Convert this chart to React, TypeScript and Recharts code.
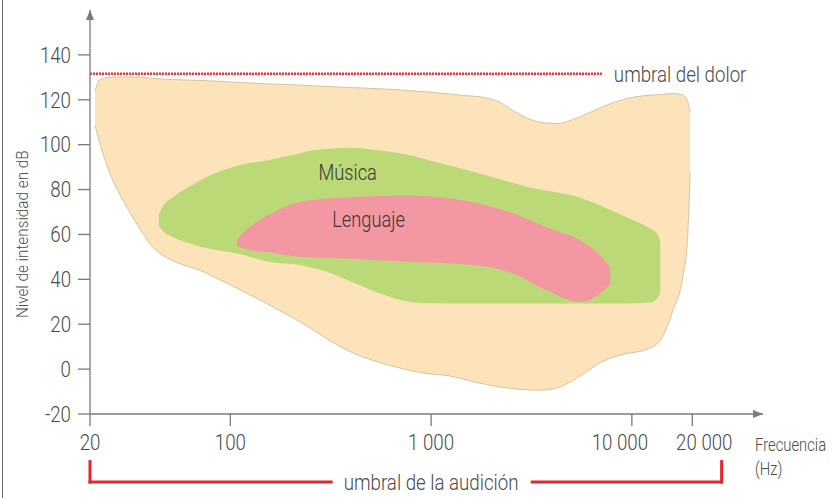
import React from "react";
import { ComposedChart, Area, XAxis, YAxis, ReferenceLine, ReferenceDot } from "recharts";

const FONT = "Roboto, 'Open Sans', sans-serif";
const TEXT = "#4a4a4a";
const AXIS = "#7a7a7a";

// ejes
const xTicks = [20, 100, 1000, 10000, 20000];
const xTickLabels = ["20", "100", "1 000", "10 000", "20 000"];
const yTicks = [-20, 0, 20, 40, 60, 80, 100, 120, 140];

// zona audible (frecuencia en Hz, nivel mínimo / máximo en dB)
const audFreq = [21.2, 22.4, 25.2, 30.6, 36.7, 41.2, 76.6, 136, 223, 382, 677, 955, 1200, 1450, 1755, 2210, 2560, 3490, 4200, 5540, 6990, 9480, 11500, 13840, 16000, 17800, 18900, 19500];
const audLow = [108.5, 100.5, 87, 72, 60.4, 54.2, 42.6, 31.5, 21, 8.4, 0.8, -2, -2.8, -4.5, -6.3, -8, -8.7, -9.4, -8.5, -3, 3, 7, 8.4, 12.8, 26, 39.5, 57, 88];
const audHigh = [124, 129, 130, 130.2, 130, 129.5, 128.5, 127.3, 126.5, 125.5, 124.5, 123.5, 122.7, 121.9, 121.3, 118.8, 115.2, 110, 109.4, 112.5, 116.5, 120.6, 121.8, 122.3, 122.8, 122.3, 119.7, 114];

// música
const musFreq = [44.1, 46.2, 51.8, 63, 76.6, 112, 154, 223, 258, 314, 382, 557, 814, 989, 1755, 3115, 5528, 9480, 12340, 13370, 13836];
const musLow = [63.7, 61.5, 58.8, 56, 53.8, 51.2, 47.8, 46.3, 45, 42.8, 39.7, 33.7, 29.7, 29.3, 29.2, 29.2, 29.2, 29.2, 29.7, 31.5, 34];
const musHigh = [69, 72.6, 76.6, 81.5, 85.7, 90.9, 93.1, 96.2, 97.5, 98.2, 98.6, 97.4, 95, 93, 87.1, 80.9, 76.4, 67.5, 62.6, 60.4, 57.3];

// lenguaje
const lenFreq = [108, 115.7, 125, 154, 223, 382, 814, 1444, 2562, 3784, 5528, 6953, 7798];
const lenLow = [54.8, 53.8, 53, 52.1, 50, 49.3, 47.7, 46.7, 42.6, 35, 29.9, 33.7, 38];
const lenHigh = [57.5, 60.6, 63.4, 68.6, 74.5, 76.6, 77.4, 75.1, 69.4, 63.1, 57.3, 50.7, 45];

// umbrales
const painLevel = 131.6;
const painEndFreq = 7090;
const hearingFreqs = [20, 318, 3190, 28000];
const bracketLevel = -50.3;
const bracketTop = -41.2;

const toRows = (freq: number[], low: number[], high: number[]) =>
  freq.map((f, i) => ({ f, band: [low[i], high[i]] }));

const audData = toRows(audFreq, audLow, audHigh);
const musData = toRows(musFreq, musLow, musHigh);
const lenData = toRows(lenFreq, lenLow, lenHigh);

// texto estrecho: la fuente original es condensada
function CondText({ x, y, anchor = "start", size = 22, sx = 0.85, fill = TEXT, dy, children }: any) {
  return (
    <text
      transform={`translate(${x},${y}) scale(${sx},1)`}
      textAnchor={anchor}
      dy={dy}
      fontSize={size}
      fontFamily={FONT}
      fontWeight={300}
      fill={fill}
    >
      {children}
    </text>
  );
}

const tickShift: Record<number, number> = { 10000: -12, 20000: 12 };

function FreqTick(props: any) {
  const { x, y, payload } = props;
  const i = xTicks.indexOf(payload.value);
  return (
    <CondText x={x + (tickShift[payload.value] ?? 0)} y={y} dy="0.71em" anchor="middle">
      {xTickLabels[i]}
    </CondText>
  );
}

function LevelTick(props: any) {
  const { x, y, payload } = props;
  return (
    <CondText x={x} y={y} dy="0.355em" anchor="end">
      {payload.value}
    </CondText>
  );
}

const textAt = (value: string, opts: any = {}) => (p: any) => (
  <CondText x={p.cx + (opts.dx ?? 0)} y={p.cy} dy="0.355em" anchor={opts.anchor ?? "middle"} sx={opts.sx} fill={opts.fill}>
    {value}
  </CondText>
);

const upArrow = (p: any) => (
  <polygon points={`${p.cx},${p.cy} ${p.cx - 4},${p.cy + 10} ${p.cx + 4},${p.cy + 10}`} fill={AXIS} />
);
const rightArrow = (p: any) => (
  <polygon points={`${p.cx},${p.cy} ${p.cx - 10},${p.cy - 4} ${p.cx - 10},${p.cy + 4}`} fill={AXIS} />
);

const red = "#e4262c";

export default function App() {
  return (
    <div style={{ position: "absolute", left: 0, top: 0, width: 835, height: 498, background: "#fff" }}>
      <div style={{ position: "absolute", left: 2, top: 0, width: 1, height: 498, background: "#6f6f6f" }} />
      <ComposedChart width={835} height={498} margin={{ top: 10, right: 72, bottom: 44, left: 30 }}>
        <XAxis
          type="number"
          dataKey="f"
          scale="log"
          domain={[20, 45000]}
          allowDataOverflow
          ticks={xTicks}
          tick={<FreqTick />}
          tickSize={12}
          tickMargin={8}
          height={40}
          stroke={AXIS}
          axisLine={{ stroke: AXIS, strokeWidth: 1.3 }}
          tickLine={{ stroke: AXIS, strokeWidth: 1.3 }}
          label={{
            content: (p: any) => {
              const vb = p.viewBox;
              const x = vb.x + vb.width - 8;
              return (
                <g>
                  <CondText x={x} y={vb.y + 37} size={19} sx={0.78}>Frecuencia</CondText>
                  <CondText x={x} y={vb.y + 61} size={19} sx={0.78}>(Hz)</CondText>
                </g>
              );
            },
          }}
        />
        <YAxis
          type="number"
          domain={[-20, 160]}
          allowDataOverflow
          ticks={yTicks}
          width={60}
          tickSize={12}
          tickMargin={7}
          tick={<LevelTick />}
          axisLine={{ stroke: AXIS, strokeWidth: 1.3 }}
          tickLine={{ stroke: AXIS, strokeWidth: 1.3 }}
          label={{
            content: (p: any) => {
              const vb = p.viewBox;
              const cx = vb.x - 8;
              const cy = vb.y + vb.height * 0.555;
              return (
                <text
                  transform={`translate(${cx}, ${cy}) rotate(-90) scale(0.9,1)`}
                  textAnchor="middle"
                  dy="0.35em"
                  fontFamily={FONT}
                  fontWeight={300}
                  fontSize={17}
                  fill={TEXT}
                >
                  Nivel de intensidad en dB
                </text>
              );
            },
          }}
        />
        <Area
          data={audData}
          dataKey="band"
          type="monotone"
          fill="#fde3ba"
          fillOpacity={1}
          stroke="#d6c3a3"
          strokeWidth={1}
          isAnimationActive={false}
        />
        <Area
          data={musData}
          dataKey="band"
          type="monotone"
          fill="#bcd977"
          fillOpacity={1}
          stroke="none"
          isAnimationActive={false}
        />
        <Area
          data={lenData}
          dataKey="band"
          type="monotone"
          fill="#f397a3"
          fillOpacity={1}
          stroke="none"
          isAnimationActive={false}
        />
        <ReferenceLine
          segment={[{ x: 20, y: painLevel }, { x: painEndFreq, y: painLevel }]}
          stroke="#e8323c"
          strokeWidth={2.5}
          strokeDasharray="2 1"
          ifOverflow="visible"
        />
        <ReferenceDot
          x={painEndFreq}
          y={painLevel}
          ifOverflow="visible"
          shape={textAt("umbral del dolor", { dx: 12, anchor: "start" })}
        />
        <ReferenceLine
          segment={[{ x: hearingFreqs[0], y: bracketTop }, { x: hearingFreqs[0], y: bracketLevel }]}
          stroke={red}
          strokeWidth={3}
          strokeLinecap="square"
          ifOverflow="visible"
        />
        <ReferenceLine
          segment={[{ x: hearingFreqs[0], y: bracketLevel }, { x: hearingFreqs[1], y: bracketLevel }]}
          stroke={red}
          strokeWidth={3}
          strokeLinecap="square"
          ifOverflow="visible"
        />
        <ReferenceLine
          segment={[{ x: hearingFreqs[2], y: bracketLevel }, { x: hearingFreqs[3], y: bracketLevel }]}
          stroke={red}
          strokeWidth={3}
          strokeLinecap="square"
          ifOverflow="visible"
        />
        <ReferenceLine
          segment={[{ x: hearingFreqs[3], y: bracketLevel }, { x: hearingFreqs[3], y: bracketTop }]}
          stroke={red}
          strokeWidth={3}
          strokeLinecap="square"
          ifOverflow="visible"
        />
        <ReferenceDot x={1000} y={bracketLevel} ifOverflow="visible" shape={textAt("umbral de la audición")} />
        <ReferenceDot x={384} y={87.7} shape={textAt("Música", { sx: 0.83, fill: "#383838" })} />
        <ReferenceDot x={488} y={66.8} shape={textAt("Lenguaje", { sx: 0.83, fill: "#383838" })} />
        <ReferenceDot x={20} y={160} ifOverflow="visible" shape={upArrow} />
        <ReferenceDot x={45000} y={-20} ifOverflow="visible" shape={rightArrow} />
      </ComposedChart>
    </div>
  );
}
